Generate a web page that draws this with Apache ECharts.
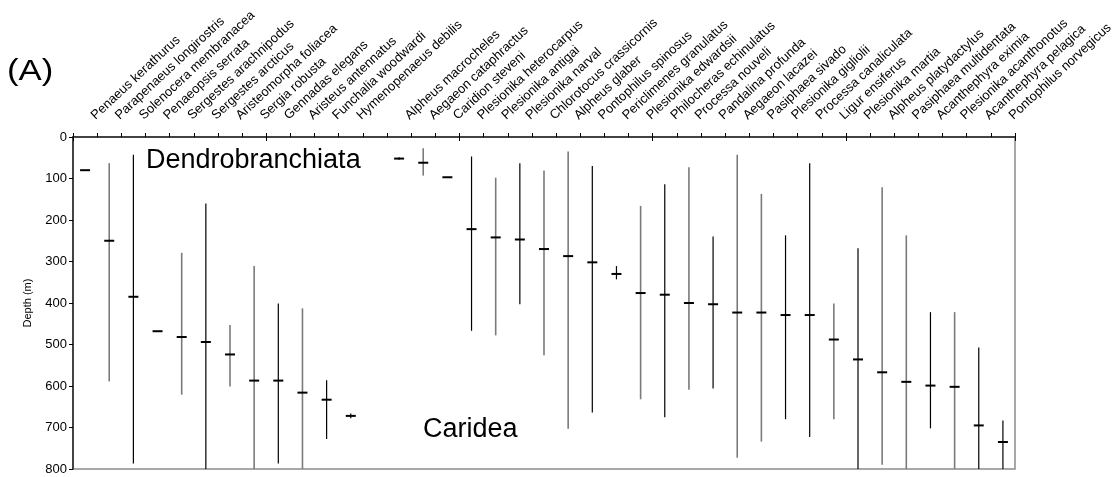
<!DOCTYPE html>
<html>
<head>
<meta charset="utf-8">
<script src="https://cdn.jsdelivr.net/npm/echarts@6/dist/echarts.min.js"></script>
<style>
html,body{margin:0;padding:0;background:#fff;}
#chart{width:1119px;height:477px;}
</style>
</head>
<body>
<div id="chart"></div>
<script>
const categories = [
  'Penaeus kerathurus','Parapenaeus longirostris','Solenocera membranacea','Penaeopsis serrata',
  'Sergestes arachnipodus','Sergestes arcticus','Aristeomorpha foliacea','Sergia robusta',
  'Gennadas elegans','Aristeus antennatus','Funchalia woodwardi','Hymenopenaeus debilis','',
  'Alpheus macrocheles','Aegaeon cataphractus','Caridion steveni','Plesionika heterocarpus',
  'Plesionika antigai','Plesionika narval','Chlorotocus crassicornis','Alpheus glaber',
  'Pontophilus spinosus','Periclimenes granulatus','Plesionika edwardsii','Philocheras echinulatus',
  'Processa nouveli','Pandalina profunda','Aegaeon lacazei','Pasiphaea sivado','Plesionika gigliolii',
  'Processa canaliculata','Ligur ensiferus','Plesionika martia','Alpheus platydactylus',
  'Pasiphaea multidentata','Acanthephyra eximia','Plesionika acanthonotus','Acanthephyra pelagica',
  'Pontophilus norvegicus'
];
const minDepth = [
  null, 63, 43, null, 279, 160, 453, 311, 401, 413, 586, 666, null,
  49, 27, null, 47, 98, 63, 81, 35, 70, 311, 166, 114, 73, 240, 43, 137, 237,
  63, 401, 268, 121, 237, 422, 422, 507, 683
];
const maxDepth = [
  null, 589, 787, null, 621, 800, 601, 800, 787, 800, 728, 678, null,
  55, 93, null, 467, 478, 403, 526, 703, 664, 343, 632, 675, 609, 606, 773, 734, 680,
  723, 680, 800, 790, 800, 702, 800, 800, 800
];
const meanDepth = [
  80, 250, 385, 468, 482, 494, 524, 587, 587, 616, 633, 672, null,
  52, 62, 97, 222, 242, 247, 270, 287, 302, 330, 376, 380, 400, 403, 423, 423, 429,
  429, 488, 536, 567, 590, 599, 602, 695, 735
];
// 1 = grey range line, 0 = black range line
const greyLine = [
  1, 1, 0, 1, 1, 0, 1, 1, 0, 1, 0, 0, 0,
  0, 1, 0, 0, 1, 0, 1, 1, 0, 0, 1, 0, 1, 0, 1, 1, 0,
  0, 1, 0, 1, 1, 0, 1, 0, 0
];
const depthTicks = [0, 100, 200, 300, 400, 500, 600, 700, 800];

const seriesData = categories.map((c, i) => [i, minDepth[i], maxDepth[i], meanDepth[i], greyLine[i]]);

const chart = echarts.init(document.getElementById('chart'), null, {renderer: 'canvas'});
const FONT = 'Liberation Sans, Arial, sans-serif';

chart.setOption({
  animation: false,
  backgroundColor: '#fff',
  grid: {left: 73, right: 104, top: 137, bottom: 8, show: true, borderColor: '#8c8c8c', borderWidth: 1.5, backgroundColor: 'transparent'},
  xAxis: [{
    type: 'category', position: 'top', data: categories, boundaryGap: true,
    axisLine: {show: true, lineStyle: {color: '#222', width: 1.5}},
    axisTick: {show: true, inside: false, length: 4, lineStyle: {color: '#000', width: 1}},
    axisLabel: {interval: 0, rotate: 43, margin: 12, padding: [0, 0, 0, 11], fontSize: 13, color: '#000', fontFamily: FONT},
    splitLine: {show: false}
  }, {
    type: 'category', position: 'top', data: categories, boundaryGap: true,
    axisLine: {show: false},
    axisTick: {show: true, inside: true, length: 4, lineStyle: {color: '#000', width: 1}},
    axisLabel: {show: false},
    splitLine: {show: false}
  }],
  yAxis: {
    type: 'value', inverse: true, min: 0, max: 800, interval: 100,
    name: 'Depth (m)', nameLocation: 'middle', nameGap: 40, nameRotate: 90,
    nameTextStyle: {fontSize: 11, color: '#000', fontFamily: FONT},
    axisLine: {show: true, lineStyle: {color: '#222', width: 1.5}},
    axisTick: {show: true, length: 4, lineStyle: {color: '#000'}},
    axisLabel: {fontSize: 13, color: '#000', margin: 6, fontFamily: FONT,
      formatter: v => depthTicks.indexOf(v) >= 0 ? String(v) : ''},
    splitLine: {show: false}
  },
  series: [{
    type: 'custom',
    xAxisIndex: 0,
    data: seriesData,
    encode: {x: 0, y: [1, 2, 3]},
    renderItem: function (params, api) {
      const i = api.value(0);
      const lo = api.value(1), hi = api.value(2), mean = api.value(3), grey = api.value(4);
      const children = [];
      const half = 5;
      if (lo != null && hi != null && !isNaN(lo) && !isNaN(hi)) {
        const p1 = api.coord([i, lo]);
        const p2 = api.coord([i, hi]);
        children.push({
          type: 'line',
          shape: {x1: p1[0], y1: p1[1], x2: p2[0], y2: p2[1]},
          style: {stroke: grey ? '#7a7a7a' : '#000', lineWidth: grey ? 1.6 : 1.2}
        });
      }
      if (mean != null && !isNaN(mean)) {
        const m = api.coord([i, mean]);
        children.push({
          type: 'line',
          shape: {x1: m[0] - half, y1: m[1], x2: m[0] + half, y2: m[1]},
          style: {stroke: '#000', lineWidth: 2}
        });
      }
      return {type: 'group', children: children};
    }
  }],
  graphic: [
    {type: 'text', left: 7, top: 57, scaleX: 1.2, style: {text: '(A)', fontSize: 29, fill: '#000', fontFamily: FONT}},
    {type: 'text', left: 146, top: 147, style: {text: 'Dendrobranchiata', fontSize: 27, fill: '#000', fontFamily: FONT}},
    {type: 'text', left: 423, top: 416, style: {text: 'Caridea', fontSize: 27, fill: '#000', fontFamily: FONT}}
  ]
});
</script>
</body>
</html>
